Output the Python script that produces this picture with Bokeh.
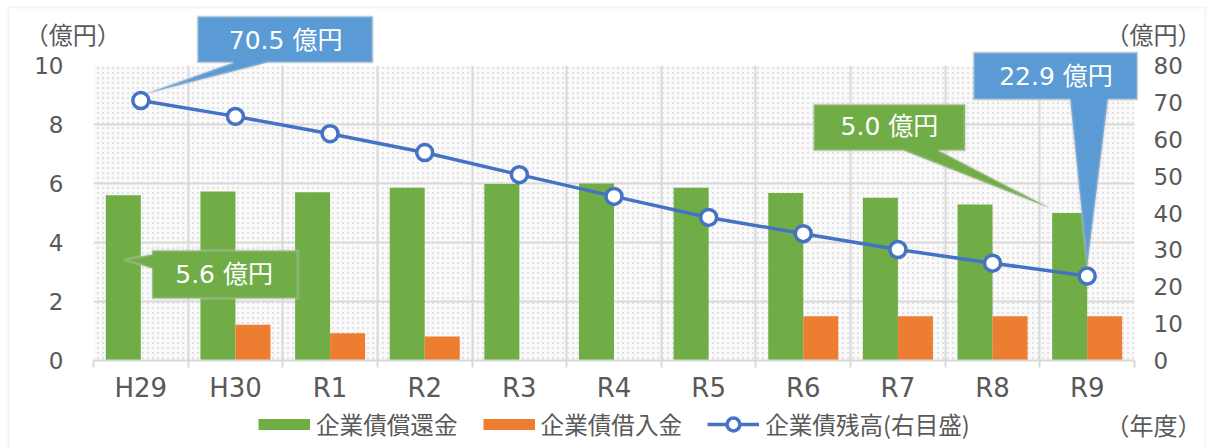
from bokeh.plotting import figure
from bokeh.models import (Range1d, LinearAxis, FixedTicker, Grid, Legend, LegendItem,
                          Label, PolyAnnotation, BoxAnnotation)
from bokeh.layouts import column
from bokeh.embed import file_html
from bokeh.resources import INLINE

# ---- data ----
years = ["H29", "H30", "R1", "R2", "R3", "R4", "R5", "R6", "R7", "R8", "R9"]
redemption = [5.6, 5.73, 5.7, 5.86, 5.98, 6.0, 5.86, 5.68, 5.52, 5.29, 5.0]   # 企業債償還金 (億円)
borrowing = [0.0, 1.21, 0.92, 0.81, 0.0, 0.0, 0.0, 1.5, 1.5, 1.5, 1.5]         # 企業債借入金 (億円)
balance = [70.5, 66.2, 61.5, 56.4, 50.4, 44.5, 38.8, 34.4, 30.1, 26.4, 22.9]   # 企業債残高 (億円, right)
left_ticks = [0, 2, 4, 6, 8, 10]
right_ticks = [0, 10, 20, 30, 40, 50, 60, 70, 80]
legend_labels = ["企業債償還金", "企業債借入金", "企業債残高(右目盛)"]

GREEN = "#70ad47"
ORANGE = "#ed7d31"
BLUE = "#4472c4"
CALLBLUE = "#5b9bd5"
GRIDC = "#d9d9d9"
TXT = "#595959"
JP = "Noto Sans CJK JP"
MIX = "DejaVu Sans, Noto Sans CJK JP"

n = len(years)
centers = [i + 0.5 for i in range(n)]
RATIO = 8.0  # right axis / left axis

# geometry
W, H = 1208, 448
ML, MR, MT, MB = 93, 74, 65, 88
XU = (W - ML - MR) / n      # px per category
YU = (H - MT - MB) / 10.0   # px per left unit

p = figure(width=W, height=H, output_backend="svg", toolbar_location=None,
           x_range=Range1d(0, n), y_range=Range1d(0, 10),
           min_border_left=ML, min_border_right=MR, min_border_top=MT, min_border_bottom=MB)
p.extra_y_ranges = {"right": Range1d(0, 80)}
p.background_fill_color = "white"
p.border_fill_color = "white"
p.outline_line_color = None
p.xgrid.visible = False
p.ygrid.visible = False
p.frame_align = False

# texture-like background
p.add_layout(BoxAnnotation(level="underlay", fill_color="#f3f3f3", line_color=None,
                           hatch_pattern="dot", hatch_color="#dcdcdc", hatch_scale=5,
                           hatch_alpha=0.8))

# grids
p.add_layout(Grid(dimension=0, ticker=FixedTicker(ticks=list(range(n + 1))),
                  grid_line_color=GRIDC, grid_line_width=2))
p.add_layout(Grid(dimension=1, ticker=FixedTicker(ticks=left_ticks),
                  grid_line_color=GRIDC, grid_line_width=2))

# bars
bw = 0.37
p.vbar(x=[c - bw / 2 for c in centers], top=redemption, width=bw, fill_color=GREEN, line_color=None)
p.vbar(x=[c + bw / 2 for c in centers], top=borrowing, width=bw, fill_color=ORANGE, line_color=None)

# line
p.line(centers, balance, y_range_name="right", line_color=BLUE, line_width=3.5)
p.scatter(centers, balance, y_range_name="right", size=16, fill_color="white",
          line_color=BLUE, line_width=3.5)

# axes
xa = p.xaxis[0]
xa.ticker = FixedTicker(ticks=centers, minor_ticks=list(range(n + 1)))
xa.major_label_overrides = {c: y for c, y in zip(centers, years)}
xa.major_tick_line_color = None
xa.minor_tick_line_color = GRIDC
xa.minor_tick_line_width = 2
xa.minor_tick_in = 0
xa.minor_tick_out = 7
xa.axis_line_color = GRIDC
xa.axis_line_width = 2
xa.major_label_text_font = "DejaVu Sans"
xa.major_label_text_font_size = "26px"
xa.major_label_text_color = TXT
xa.major_label_standoff = 5

ya = p.yaxis[0]
ya.ticker = FixedTicker(ticks=left_ticks)
ya.axis_line_color = None
ya.major_tick_line_color = None
ya.minor_tick_line_color = None
ya.major_label_text_font = "DejaVu Sans"
ya.major_label_text_font_size = "23px"
ya.major_label_text_color = TXT
ya.major_label_standoff = 24

ra = LinearAxis(y_range_name="right", ticker=FixedTicker(ticks=right_ticks))
ra.axis_line_color = None
ra.major_tick_line_color = None
ra.minor_tick_line_color = None
ra.major_label_text_font = "DejaVu Sans"
ra.major_label_text_font_size = "23px"
ra.major_label_text_color = TXT
ra.major_label_standoff = 13
p.add_layout(ra, "right")

# ---- overlay figure for callouts, unit labels and legend (same data coordinates) ----
q = figure(width=W, height=H, output_backend="svg", toolbar_location=None,
           x_axis_location=None, y_axis_location=None,
           x_range=Range1d(-ML / XU, (W - ML) / XU),
           y_range=Range1d(-MB / YU, (H - MB) / YU),
           min_border=0, min_border_left=0, min_border_right=0,
           min_border_top=0, min_border_bottom=0)
q.background_fill_alpha = 0
q.border_fill_alpha = 0
q.outline_line_color = None
q.xgrid.visible = False
q.ygrid.visible = False
q.frame_align = False
q.styles = {"margin-top": f"-{H}px"}

def qx(px):
    return (px - ML) / XU

def qy(py):
    return (H - MB - py) / YU

# chart border
q.add_layout(BoxAnnotation(left=qx(8), right=qx(1205), top=qy(7), bottom=qy(460),
                           fill_alpha=0, line_color=GRIDC, line_width=2))

for x, y, t in [(-0.22, 11.08, "（億円）"), (11.2, 11.08, "（億円）"), (11.2, -2.17, "（年度）")]:
    q.add_layout(Label(x=x, y=y, text=t, text_font=JP, text_font_size="24px",
                       text_color=TXT, text_align="center", text_baseline="middle"))

def callout(xs, ys, color):
    q.add_layout(PolyAnnotation(xs=xs, ys=ys, fill_color=color, fill_alpha=1.0,
                                line_color="#cbcbcb", line_width=3))

# 70.5 (H29 balance)
tx, ty = centers[0] + 0.07, balance[0] / RATIO + 0.25
callout([1.10, 2.95, 2.95, 1.84, tx, 1.48, 1.10],
        [11.66, 11.66, 10.10, 10.10, ty, 10.10, 10.10], CALLBLUE)
# 22.9 (R9 balance)
tx, ty = centers[-1], balance[-1] / RATIO + 0.32
callout([9.30, 11.03, 11.03, 10.72, tx, 10.32, 9.30],
        [10.44, 10.44, 8.85, 8.85, ty, 8.85, 8.85], CALLBLUE)
# 5.0 (R9 redemption)
tx, ty = n - 1 + 0.09, redemption[-1] + 0.19
callout([7.61, 9.21, 9.21, 8.93, tx, 8.56, 7.61],
        [8.68, 8.68, 7.12, 7.12, ty, 7.12, 7.12], GREEN)
# 5.6 (H29 redemption)
callout([0.62, 2.16, 2.16, 0.62, 0.62, 0.32, 0.62],
        [3.73, 3.73, 2.10, 2.10, 3.12, 3.42, 3.59], GREEN)

for x, y, t in [(2.03, 10.86, f"{balance[0]} 億円"), (10.17, 9.62, f"{balance[-1]} 億円"),
                (8.41, 7.92, f"{redemption[-1]:.1f} 億円"), (1.38, 2.93, f"{redemption[0]} 億円")]:
    q.add_layout(Label(x=x, y=y, text=t, text_font=MIX, text_font_size="25px",
                       text_color="white", text_align="center", text_baseline="middle"))

# legend (hidden copies of the series carry the legend styling)
lg = q.line(centers, redemption, line_color=GREEN, line_width=11, visible=False)
lo = q.line(centers, borrowing, line_color=ORANGE, line_width=11, visible=False)
lb = q.line(centers, balance, line_color=BLUE, line_width=3.5, visible=False)
lm = q.scatter(centers, balance, fill_color="white", line_color=BLUE, line_width=3.5,
               visible=False)
legend = Legend(items=[LegendItem(label=legend_labels[0], renderers=[lg]),
                       LegendItem(label=legend_labels[1], renderers=[lo]),
                       LegendItem(label=legend_labels[2], renderers=[lb, lm])],
                orientation="horizontal", location=(258, 7),
                glyph_width=52, glyph_height=32, label_standoff=6, spacing=25,
                padding=0, margin=0, border_line_color=None, background_fill_alpha=0,
                inactive_fill_alpha=0,
                label_text_font=JP, label_text_font_size="23.6px", label_text_color=TXT)
q.add_layout(legend, "center")

layout = column(p, q, spacing=0)
open("out.html", "w").write(file_html(layout, INLINE))
